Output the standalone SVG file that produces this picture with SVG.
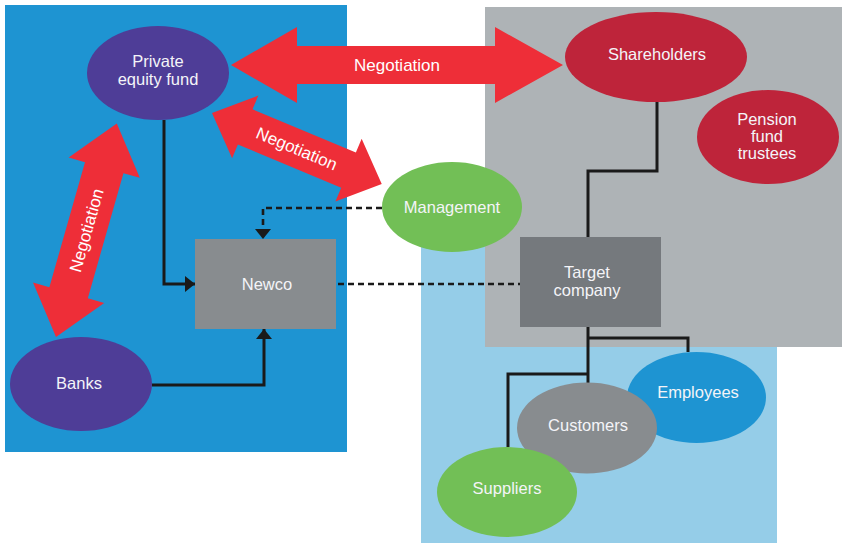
<svg xmlns="http://www.w3.org/2000/svg" width="842" height="543" viewBox="0 0 842 543">
  <style>
    .lbl { font-family: "Liberation Sans", Arial, sans-serif; font-size: 16.5px; fill: #F4F4F8; text-anchor: middle; }
    .neg { font-family: "Liberation Sans", Arial, sans-serif; font-size: 17px; fill: #FFFFFF; text-anchor: middle; }
    .fat { fill: #EE2E38; }
    .solid { fill: none; stroke: #1A1A1A; stroke-width: 3; }
    .dash { fill: none; stroke: #1A1A1A; stroke-width: 2.6; stroke-dasharray: 6 4; }
    .purple { fill: #4E3D97; }
    .crimson { fill: #BE243A; }
    .green { fill: #72BF56; }
  </style>
  <defs>
    <marker id="head" viewBox="0 0 10 16" refX="10" refY="8" markerWidth="10" markerHeight="16" markerUnits="userSpaceOnUse" orient="auto">
      <path d="M0,0 L10,8 L0,16 z" fill="#1A1A1A"/>
    </marker>
  </defs>

  <!-- background zones -->
  <rect x="5" y="5" width="342" height="447" fill="#1E94D2"/>
  <rect x="421" y="240" width="356" height="303" fill="#95CDE8"/>
  <rect x="485" y="7" width="357" height="340" fill="#AEB3B6"/>

  <!-- connectors -->
  <g id="connectors">
    <path class="solid" d="M164,120 V284 H195" marker-end="url(#head)"/>
    <path class="solid" d="M152,385 H264 V329" marker-end="url(#head)"/>
    <path class="dash" d="M382,208 H263 V239" marker-end="url(#head)"/>
    <path class="dash" d="M338,284 H520"/>
    <path class="solid" d="M657,101 V171 H588 V237"/>
    <path class="solid" d="M588,327 V383"/>
    <path class="solid" d="M588,338 H688 V352"/>
    <path class="solid" d="M588,374 H508 V447"/>
  </g>

  <!-- negotiation arrows -->
  <g id="neg-shareholders" transform="translate(231,65)">
    <polygon class="fat" points="0,0 66,-38 66,-19 264,-19 264,-38 332,0 264,38 264,19 66,19 66,38"/>
    <text class="neg" x="166" y="6">Negotiation</text>
  </g>
  <g id="neg-management" transform="translate(212,113) rotate(22.7)">
    <polygon class="fat" points="0,0 36,-34 36,-19 148,-19 148,-34 184,0 148,34 148,19 36,19 36,34"/>
    <text class="neg" x="92" y="6">Negotiation</text>
  </g>
  <g id="neg-banks" transform="translate(56,337) rotate(-74.1)">
    <polygon class="fat" points="0,0 46,-37 46,-20 176,-20 176,-37 222,0 176,37 176,20 46,20 46,37"/>
    <text class="neg" x="111" y="6">Negotiation</text>
  </g>

  <!-- nodes -->
  <g id="private-equity-fund">
    <ellipse class="purple" cx="158" cy="73" rx="71" ry="47"/>
    <text class="lbl" x="158" y="67">Private</text>
    <text class="lbl" x="158" y="85">equity fund</text>
  </g>
  <g id="banks">
    <ellipse class="purple" cx="81" cy="384" rx="71" ry="47"/>
    <text class="lbl" x="79" y="389">Banks</text>
  </g>
  <g id="newco">
    <rect x="195" y="239" width="141" height="90" fill="#888C8F"/>
    <text class="lbl" x="267" y="290">Newco</text>
  </g>
  <g id="management">
    <ellipse class="green" cx="452" cy="207" rx="70" ry="45"/>
    <text class="lbl" x="452" y="213">Management</text>
  </g>
  <g id="shareholders">
    <ellipse class="crimson" cx="656" cy="57" rx="91" ry="45"/>
    <text class="lbl" x="657" y="60">Shareholders</text>
  </g>
  <g id="pension-fund-trustees">
    <ellipse class="crimson" cx="768" cy="137" rx="71" ry="47"/>
    <text class="lbl" x="767" y="125">Pension</text>
    <text class="lbl" x="767" y="142">fund</text>
    <text class="lbl" x="767" y="159">trustees</text>
  </g>
  <g id="target-company">
    <rect x="520" y="237" width="141" height="90" fill="#75797D"/>
    <text class="lbl" x="587" y="278">Target</text>
    <text class="lbl" x="587" y="296">company</text>
  </g>
  <g id="employees">
    <ellipse cx="696.5" cy="397.5" rx="69.5" ry="45.5" fill="#1E94D2"/>
    <text class="lbl" x="698" y="398">Employees</text>
  </g>
  <g id="customers">
    <ellipse cx="587" cy="428" rx="70" ry="45.5" fill="#888C8F"/>
    <text class="lbl" x="588" y="431">Customers</text>
  </g>
  <g id="suppliers">
    <ellipse class="green" cx="507" cy="492" rx="70" ry="45"/>
    <text class="lbl" x="507" y="494">Suppliers</text>
  </g>
</svg>
